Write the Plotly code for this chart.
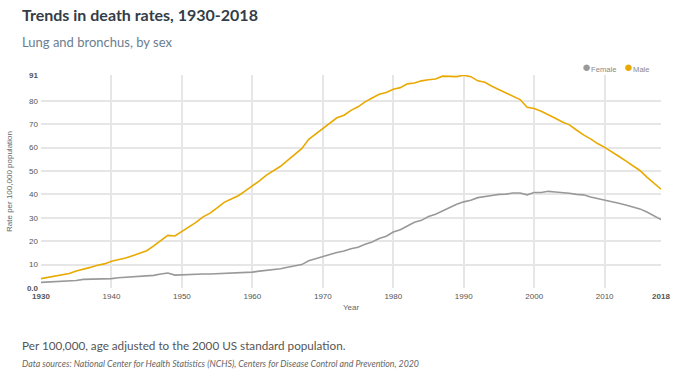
import plotly.graph_objects as go

years = list(range(1930, 2019))

male = [4.0, 4.5, 5.2, 5.5, 6.2, 7.3, 7.9, 8.8, 9.7, 10.3,
        11.4, 12.0, 12.8, 13.8, 14.7, 15.9, 18.0, 20.4, 22.5, 22.2,
        24.1, 25.8, 28.0, 30.4, 32.0, 34.2, 36.6, 38.0, 39.4, 41.5,
        43.5, 45.8, 48.2, 50.2, 52.0, 54.5, 57.0, 59.5, 63.5, 65.8,
        68.3, 70.5, 72.7, 73.8, 75.9, 77.4, 79.5, 81.2, 82.8, 83.5,
        84.9, 85.6, 87.2, 87.6, 88.5, 89.0, 89.3, 90.5, 90.3, 90.3,
        90.9, 90.3, 88.5, 87.9, 86.2, 84.8, 83.5, 82.1, 80.5, 77.2,
        76.7, 75.5, 74.1, 72.5, 70.9, 69.7, 67.5, 65.4, 63.7, 61.7,
        60.1, 58.3, 56.3, 54.3, 52.3, 50.2, 47.4, 44.9, 42.2]

female = [2.4, 2.5, 2.6, 2.8, 2.9, 3.2, 3.7, 3.7, 3.9, 4.0,
          4.0, 4.4, 4.6, 4.8, 5.0, 5.2, 5.4, 6.0, 6.4, 5.5,
          5.7, 5.8, 6.0, 6.0, 6.0, 6.1, 6.2, 6.3, 6.5, 6.6,
          6.8, 7.2, 7.5, 8.0, 8.2, 8.9, 9.5, 10.0, 11.6, 12.4,
          13.3, 14.3, 15.2, 15.8, 16.8, 17.4, 18.7, 19.7, 21.1, 22.1,
          23.9, 24.9, 26.5, 28.1, 28.9, 30.5, 31.5, 32.9, 34.4, 35.8,
          36.8, 37.5, 38.6, 39.2, 39.5, 40.0, 40.1, 40.6, 40.6, 39.8,
          40.8, 40.8, 41.3, 41.0, 40.8, 40.5, 40.0, 39.8, 38.9, 38.3,
          37.6, 36.8, 36.2, 35.5, 34.8, 33.8, 32.5, 30.9, 29.2]

series_names = ["Female", "Male"]
series_colors = ["#999999", "#E8A900"]

x_tickvals = [1930, 1940, 1950, 1960, 1970, 1980, 1990, 2000, 2010, 2018]
x_ticktext = ["<b>1930</b>", "1940", "1950", "1960", "1970", "1980", "1990", "2000", "2010", "<b>2018</b>"]
x_gridvals = [1930, 1940, 1950, 1960, 1970, 1980, 1990, 2000, 2010]
y_tickvals = [0, 10, 20, 30, 40, 50, 60, 70, 80, 91]
y_ticktext = ["<b>0.0</b>", "10", "20", "30", "40", "50", "60", "70", "80", "<b>91</b>"]

W, H = 685, 379
L, R, T, B = 41, 24, 75, 91
PW, PH = W - L - R, H - T - B


def px(x, y):
    return (x - L) / PW, (H - B - y) / PH


fig = go.Figure()
for name, vals, col in zip(series_names, [female, male], series_colors):
    fig.add_trace(go.Scatter(x=years, y=vals, name=name, mode="lines", showlegend=False,
                             line=dict(color=col, width=1.6)))

fig.update_layout(
    width=W, height=H,
    margin=dict(l=L, r=R, t=T, b=B, autoexpand=False),
    paper_bgcolor="white", plot_bgcolor="white",
    font=dict(family="Liberation Sans, Arial", size=8, color="#666666"),
    showlegend=False,
    xaxis=dict(range=[1930, 2018], tickvals=x_tickvals, ticktext=x_ticktext,
               showgrid=False, zeroline=False,
               minor=dict(tickvals=x_gridvals, showgrid=True, gridcolor="#e6e6e6", gridwidth=1.5, ticks=""),
               showline=False, ticks="", tickfont=dict(size=8, color="#555555"),
               automargin=False, ticklabelstandoff=2,
               title=dict(text="Year", font=dict(size=8, color="#666666"), standoff=4)),
    yaxis=dict(range=[0, 91], tickvals=y_tickvals, ticktext=y_ticktext,
               showgrid=True, gridcolor="#e6e6e6", gridwidth=1.5, zeroline=False,
               showline=False, ticks="", tickfont=dict(size=8, color="#555555"),
               automargin=False, ticklabelstandoff=2,
               title=dict(text="Rate per 100,000 population", font=dict(size=8, color="#666666"), standoff=13)),
)

texts = [
    ("<b>Trends in death rates, 1930-2018</b>", 20, 15, 16, "#333d47"),
    ("Lung and bronchus, by sex", 20, 42, 13, "#6b7d91"),
    ("Per 100,000, age adjusted to the 2000 US standard population.", 20, 345, 11.7, "#555555"),
    ("<i>Data sources: National Center for Health Statistics (NCHS), Centers for Disease Control and Prevention, 2020</i>", 20, 363, 8.8, "#666666"),
]
for t, x, y, s, c in texts:
    ax, ay = px(x, y)
    fig.add_annotation(text=t, x=ax, y=ay, xref="paper", yref="paper", showarrow=False,
                       xanchor="left", yanchor="middle",
                       font=dict(family="Lato, sans-serif", size=s, color=c))

# legend built as text with circle glyphs
legend_x = [580, 622]
for name, col, lxp in zip(series_names, series_colors, legend_x):
    ax, ay = px(lxp, 66)
    fig.add_annotation(text=f"<span style='color:{col};font-size:15px'>●</span>{name}",
                       x=ax, y=ay, xref="paper", yref="paper", showarrow=False,
                       xanchor="left", yanchor="middle",
                       font=dict(family="Liberation Sans, Arial", size=7.6, color="#888888"))

fig.write_html("out.html", config={"displayModeBar": False},
               post_script="document.body.style.margin='0';")
